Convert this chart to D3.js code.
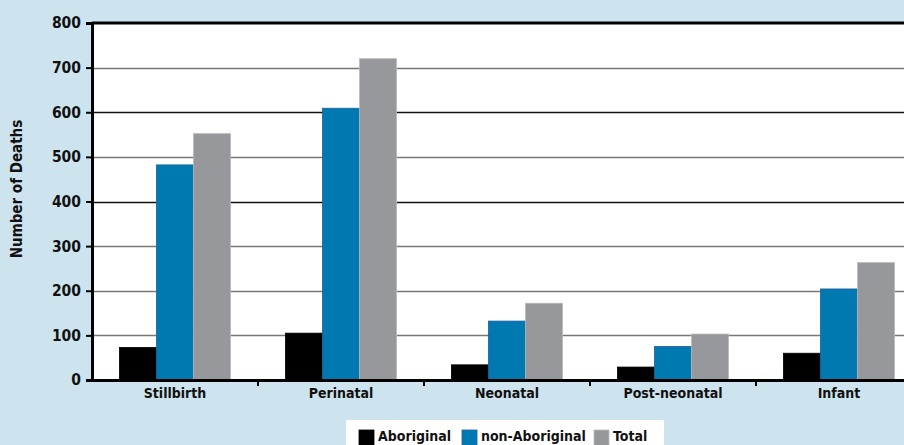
<!DOCTYPE html>
<html>
<head>
<meta charset="utf-8">
<script src="https://cdn.jsdelivr.net/npm/d3@7"></script>
<style>
  html, body { margin: 0; padding: 0; background: #cde4ee; }
  svg { display: block; }
  text { font-family: "DejaVu Sans Condensed", "DejaVu Sans", sans-serif; font-weight: bold; fill: #111; }
</style>
</head>
<body>
<svg id="chart" width="904" height="445"></svg>
<script>
// Deaths by period, grouped by Aboriginal status
const categories = ["Stillbirth", "Perinatal", "Neonatal", "Post-neonatal", "Infant"];
const seriesNames = ["Aboriginal", "non-Aboriginal", "Total"];
const aboriginal = [73, 105, 34, 29, 60];
const nonAboriginal = [482, 609, 132, 75, 204];
const total = [552, 720, 172, 103, 263];
const yTicks = [0, 100, 200, 300, 400, 500, 600, 700, 800];

const seriesValues = [aboriginal, nonAboriginal, total];
const colors = ["#000000", "#0079b1", "#97989c"];
const strokes = ["#000000", "#1f5fa0", "#b8b9bc"];

const svg = d3.select("#chart");
const W = 904, H = 445;
const plot = { left: 92, right: 922, top: 23, bottom: 380 };

const x0 = d3.scaleBand().domain(categories).range([plot.left, plot.right]).paddingInner(0).paddingOuter(0);
const x1 = d3.scaleBand().domain(seriesNames).range([0, x0.bandwidth()]).paddingInner(0).paddingOuter(0.74);
const y = d3.scaleLinear().domain([0, 800]).range([plot.bottom, plot.top]);

// plot background
svg.append("rect")
  .attr("x", plot.left).attr("y", plot.top)
  .attr("width", W - plot.left).attr("height", plot.bottom - plot.top)
  .attr("fill", "#ffffff");

// gridlines
const gridColor = v => (v === 600 || v === 400) ? "#111" : "#777";
svg.append("g").selectAll("line")
  .data(yTicks.filter(v => v > 0 && v < 800))
  .join("line")
  .attr("x1", plot.left).attr("x2", W)
  .attr("y1", d => Math.round(y(d)) + 0.5).attr("y2", d => Math.round(y(d)) + 0.5)
  .attr("stroke", gridColor).attr("stroke-width", 1.5);

// top border of plot
svg.append("line")
  .attr("x1", plot.left).attr("x2", W)
  .attr("y1", y(800)).attr("y2", y(800))
  .attr("stroke", "#000").attr("stroke-width", 3);

// bars
const groups = svg.append("g").selectAll("g")
  .data(categories)
  .join("g")
  .attr("transform", d => `translate(${x0(d)},0)`);

groups.selectAll("rect")
  .data((c, i) => seriesNames.map((s, j) => ({ s, j, v: seriesValues[j][i] })))
  .join("rect")
  .attr("x", d => x1(d.s))
  .attr("y", d => y(d.v))
  .attr("width", x1.bandwidth())
  .attr("height", d => y(0) - y(d.v))
  .attr("fill", d => colors[d.j])
  .attr("stroke", d => strokes[d.j])
  .attr("stroke-width", 0.8);

// y axis
const yAxis = d3.axisLeft(y).tickValues(yTicks).tickSize(6).tickPadding(5).tickFormat(d3.format("d"));
const gy = svg.append("g").attr("transform", `translate(${plot.left},0)`).call(yAxis);
gy.select(".domain").attr("stroke", "#000").attr("stroke-width", 3);
gy.selectAll(".tick line").attr("stroke", "#000").attr("stroke-width", 2);
gy.selectAll(".tick text").style("font-size", "15.5px").attr("fill", "#111");

// x axis
const xAxis = d3.axisBottom(x0).tickSize(0).tickPadding(8);
const gx = svg.append("g").attr("transform", `translate(0,${plot.bottom})`).call(xAxis);
gx.select(".domain").attr("stroke", "#000").attr("stroke-width", 3);
gx.selectAll(".tick text").style("font-size", "14px").attr("fill", "#111");

// category separators below the axis
svg.append("g").selectAll("line")
  .data(categories.slice(1))
  .join("line")
  .attr("x1", d => x0(d)).attr("x2", d => x0(d))
  .attr("y1", plot.bottom).attr("y2", plot.bottom + 6)
  .attr("stroke", "#000").attr("stroke-width", 2);

// y axis title
svg.append("text")
  .attr("transform", `translate(22,189) rotate(-90)`)
  .attr("text-anchor", "middle")
  .style("font-size", "15px")
  .text("Number of Deaths");

// legend
const legend = svg.append("g");
legend.append("rect")
  .attr("x", 346).attr("y", 420).attr("width", 318).attr("height", 40)
  .attr("fill", "#ffffff");
const legendX = [359, 462, 594];
const items = legend.selectAll("g.item")
  .data(seriesNames)
  .join("g").attr("class", "item")
  .attr("transform", (d, i) => `translate(${legendX[i]},0)`);
items.append("rect")
  .attr("x", 0).attr("y", 430).attr("width", 15).attr("height", 16)
  .attr("fill", (d, i) => colors[i])
  .attr("stroke", (d, i) => strokes[i]).attr("stroke-width", 0.8);
items.append("text")
  .attr("x", 19).attr("y", 441)
  .style("font-size", "14px")
  .text(d => d);
</script>
</body>
</html>
